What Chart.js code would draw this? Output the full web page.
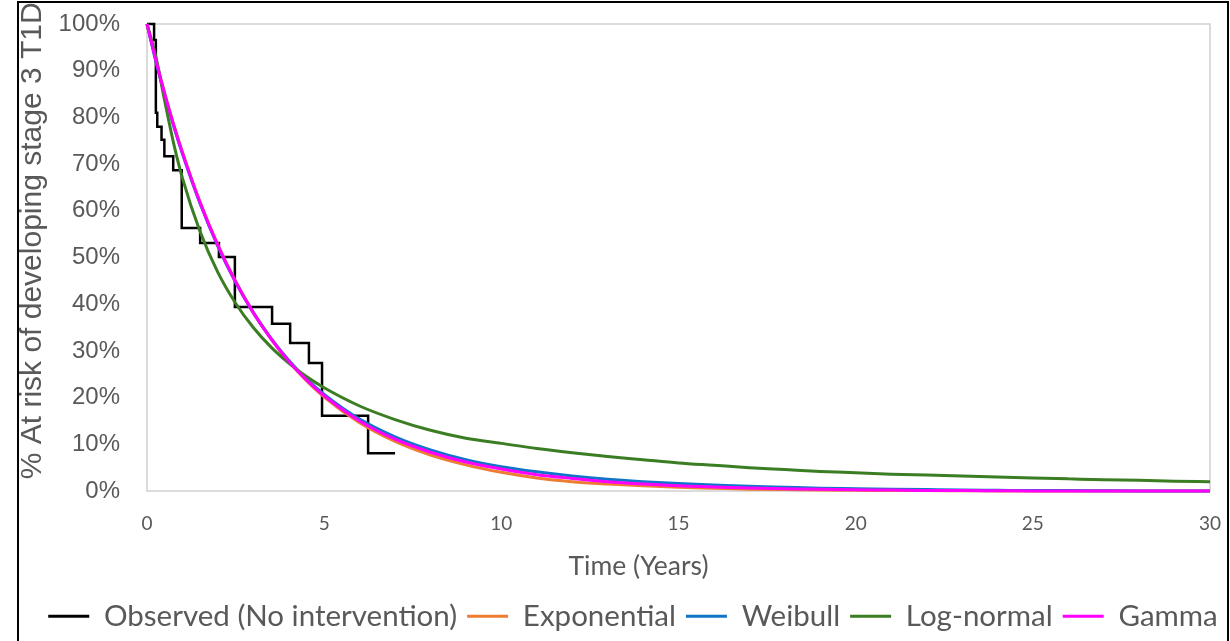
<!DOCTYPE html>
<html>
<head>
<meta charset="utf-8">
<script src="https://cdn.jsdelivr.net/npm/chart.js@4.4.1/dist/chart.umd.min.js"></script>
<style>
    html, body { margin: 0; padding: 0; background: #fff; overflow: hidden; }
    #wrap { position: relative; width: 1230px; height: 641px; }
    #frame {
        position: absolute; left: 17px; top: 1px; width: 1212px; height: 700px;
        border: 2px solid #000; box-sizing: border-box; pointer-events: none;
    }
</style>
</head>
<body>
<div id="wrap">
    <canvas id="survival-chart" width="1230" height="641"></canvas>
    <div id="frame"></div>
</div>
<script>
// Kaplan-Meier steps (years, % still at risk)
const obsYears = [0, 0.2, 0.25, 0.29, 0.41, 0.49, 0.74, 0.98, 1.5, 2.03, 2.48, 3.53, 4.04, 4.57, 4.94, 6.24, 7.0];
const obsPct = [100, 96.6, 81.0, 78.0, 75.2, 71.7, 68.7, 56.3, 53.1, 50.1, 39.4, 35.8, 31.7, 27.4, 16.1, 8.1, 8.1];

// Fitted curves at these times
const fitYears = [0, 0.25, 0.5, 0.75, 1, 1.5, 2, 2.5, 3, 3.5, 4, 4.5, 5, 6, 7, 8, 9, 10, 11, 12, 13, 14, 15,
    16, 17, 18, 19, 20, 21, 22, 23, 24, 25, 26, 27, 28, 29, 30];
const exponentialPct = [100, 92.3, 85.2, 78.6, 72.6, 61.8, 52.7, 44.9, 38.2, 32.6, 27.7, 23.6, 20.1, 14.6, 10.6, 7.7,
    5.6, 4.0, 2.8, 2.0, 1.5, 1.1, 0.8, 0.6, 0.4, 0.3, 0.2, 0.15, 0.1, 0.1, 0.05, 0, 0, 0, 0, 0, 0, 0];
const weibullPct = [100, 92.0, 84.8, 78.2, 72.2, 61.5, 52.4, 44.7, 38.2, 32.7, 28.0, 24.0, 20.7, 15.4, 11.6, 8.8,
    6.7, 5.2, 4.1, 3.2, 2.5, 2.0, 1.6, 1.3, 1.0, 0.8, 0.6, 0.5, 0.4, 0.3, 0.2, 0.15, 0.1, 0.1, 0.05, 0, 0, 0];
const logNormalPct = [100, 93.0, 83.5, 74.5, 67.0, 55.5, 46.8, 40.2, 35.0, 30.8, 27.4, 24.5, 22.1, 18.2, 15.3, 13.0,
    11.3, 10.2, 9.1, 8.2, 7.4, 6.7, 6.0, 5.5, 5.0, 4.6, 4.2, 3.9, 3.6, 3.4, 3.2, 3.0, 2.8, 2.6, 2.4, 2.3, 2.1, 2.0];
const gammaPct = [100, 92.2, 85.0, 78.4, 72.4, 61.7, 52.6, 44.8, 38.2, 32.6, 27.8, 23.8, 20.4, 15.0, 11.1, 8.3,
    6.2, 4.7, 3.5, 2.7, 2.0, 1.5, 1.1, 0.85, 0.65, 0.5, 0.35, 0.25, 0.2, 0.1, 0.1, 0.05, 0, 0, 0, 0, 0, 0];

const seriesLabels = ['Observed (No intervention)', 'Exponential', 'Weibull', 'Log-normal', 'Gamma'];
const seriesColors = ['#000000', '#ED7D31', '#0F75C9', '#3A7D22', '#FF00FF'];

const TEXT_GREY = '#595959';

function toPoints(xs, ys) {
    return xs.map((x, i) => ({ x: x, y: ys[i] }));
}

// light grey box round the plot area
const plotFrame = {
    id: 'plotFrame',
    beforeDatasetsDraw(chart) {
        const { ctx, chartArea: a } = chart;
        ctx.save();
        ctx.strokeStyle = '#D0D0D0';
        ctx.lineWidth = 1.5;
        ctx.strokeRect(a.left, a.top, a.right - a.left, a.bottom - a.top);
        ctx.restore();
    }
};

function curve(idx, ys, order) {
    return {
        label: seriesLabels[idx],
        data: toPoints(fitYears, ys),
        borderColor: seriesColors[idx],
        backgroundColor: seriesColors[idx],
        borderWidth: 3,
        cubicInterpolationMode: 'monotone',
        fill: false,
        clip: false,
        order: order
    };
}

const ctx = document.getElementById('survival-chart');

new Chart(ctx, {
    type: 'line',
    data: {
        datasets: [
            {
                label: seriesLabels[0],
                data: toPoints(obsYears, obsPct),
                borderColor: seriesColors[0],
                backgroundColor: seriesColors[0],
                borderWidth: 2.5,
                stepped: 'before',
                fill: false,
                clip: false,
                order: 5
            },
            curve(1, exponentialPct, 4),
            curve(2, weibullPct, 3),
            curve(3, logNormalPct, 2),
            curve(4, gammaPct, 1)
        ]
    },
    options: {
        responsive: false,
        animation: false,
        layout: {
            // legend box spans 36..1230 so it centres where the original does
            padding: { top: 24, right: 0, bottom: 0, left: 36 }
        },
        elements: {
            point: { radius: 0, hoverRadius: 0 }
        },
        plugins: {
            tooltip: { enabled: false },
            legend: {
                position: 'bottom',
                labels: {
                    color: TEXT_GREY,
                    font: { family: 'Lato', size: 29.5 },
                    boxWidth: 41,
                    boxHeight: 3,
                    padding: 10,
                    sort: (a, b) => a.datasetIndex - b.datasetIndex,
                    generateLabels: chart => Chart.defaults.plugins.legend.labels.generateLabels(chart)
                        .map(item => ({ ...item, lineWidth: 0, fillStyle: item.strokeStyle }))
                }
            }
        },
        scales: {
            x: {
                type: 'linear',
                min: 0,
                max: 30,
                grid: { display: false, drawTicks: false },
                border: { display: false },
                ticks: {
                    stepSize: 5,
                    padding: 21,
                    color: TEXT_GREY,
                    font: { family: 'Lato', size: 19 }
                },
                title: {
                    display: true,
                    // trailing spaces pull the title left of the axis centre, as in the original
                    text: 'Time (Years)\u2003\u2003\u2003   ',
                    color: TEXT_GREY,
                    font: { family: 'Lato', size: 26.5 },
                    padding: { top: 0, bottom: 9.6 }
                },
                afterFit: s => {
                    s.height = 100.5;
                    s.paddingLeft = 0;
                    s.paddingRight = 20;
                }
            },
            y: {
                min: 0,
                max: 100,
                grid: { display: false, drawTicks: false },
                border: { display: false },
                ticks: {
                    stepSize: 10,
                    padding: 27,
                    color: TEXT_GREY,
                    font: { family: 'Liberation Sans', size: 24 },
                    callback: v => v + '%'
                },
                title: {
                    display: true,
                    text: '    % At risk of developing stage 3 T1D',
                    color: TEXT_GREY,
                    font: { family: 'Liberation Sans', size: 30 },
                    padding: { top: -21, bottom: 0 }
                },
                afterFit: s => {
                    s.width = 111;
                    s.paddingTop = 0;
                    s.paddingBottom = 0;
                }
            }
        }
    },
    plugins: [plotFrame]
});
</script>
</body>
</html>
